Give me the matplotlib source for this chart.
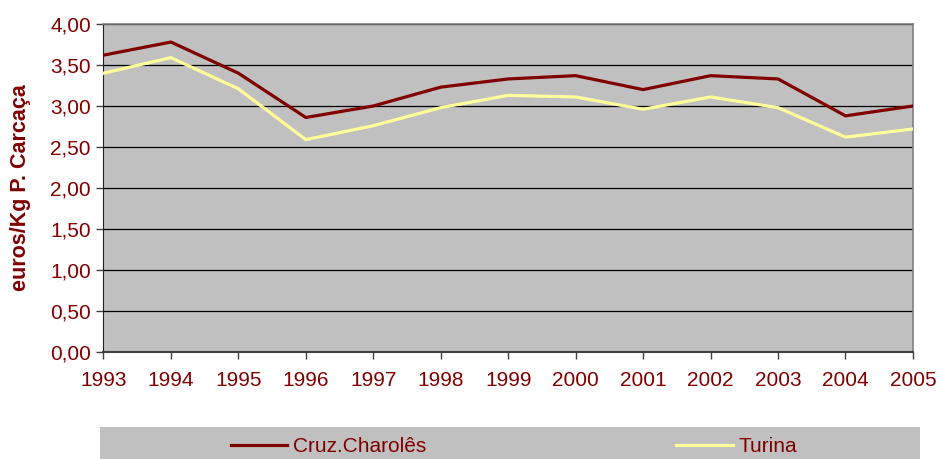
import matplotlib
matplotlib.use("Agg")
import matplotlib.pyplot as plt
from matplotlib.ticker import FuncFormatter

# dados (euros/Kg peso carcaça)
anos = [1993, 1994, 1995, 1996, 1997, 1998, 1999, 2000, 2001, 2002, 2003, 2004, 2005]
cruz_charoles = [3.62, 3.78, 3.40, 2.86, 3.00, 3.23, 3.33, 3.37, 3.20, 3.37, 3.33, 2.88, 3.00]
turina = [3.40, 3.59, 3.21, 2.59, 2.76, 2.98, 3.13, 3.11, 2.96, 3.11, 2.98, 2.62, 2.72]
y_ticks = [0, 0.5, 1.0, 1.5, 2.0, 2.5, 3.0, 3.5, 4.0]

VERMELHO = "#800000"
AMARELO = "#FFFF99"
CINZA = "#C0C0C0"

plt.rcParams["font.family"] = ["Liberation Sans", "DejaVu Sans"]

fig = plt.figure(figsize=(9.38, 4.59), dpi=100)
ax = fig.add_axes([0.1103, 0.2331, 0.8630, 0.7146])
ax.set_facecolor(CINZA)

ax.plot(anos, cruz_charoles, color=VERMELHO, lw=2.3, label="Cruz.Charolês", zorder=3)
ax.plot(anos, turina, color=AMARELO, lw=2.3, label="Turina", zorder=3)

ax.set_xlim(anos[0], anos[-1])
ax.set_ylim(0, 4)
ax.set_xticks(anos)
ax.set_yticks(y_ticks)
ax.yaxis.set_major_formatter(FuncFormatter(lambda v, p: f"{v:.2f}".replace(".", ",")))

ax.grid(axis="y", color="black", lw=0.9, zorder=1)
ax.set_axisbelow(True)

for s in ["top", "right"]:
    ax.spines[s].set_color("#808080")
    ax.spines[s].set_linewidth(1.2)
ax.spines["left"].set_color("#202020")
ax.spines["bottom"].set_color("#404040")
ax.spines["bottom"].set_linewidth(1.5)

ax.tick_params(axis="y", colors="#404040", labelcolor=VERMELHO, labelsize=15,
               length=5, width=1, pad=4)
ax.tick_params(axis="x", colors="#404040", labelcolor=VERMELHO, labelsize=15,
               length=5, width=1, pad=9)

ax.set_ylabel("euros/Kg P. Carcaça", color=VERMELHO, fontsize=15.5,
              fontweight="bold", labelpad=14)

# caixa da legenda em baixo
ax_leg = fig.add_axes([0.1066, 0.0, 0.8742, 0.0697])
ax_leg.set_facecolor(CINZA)
ax_leg.set_xticks([])
ax_leg.set_yticks([])
for s in ax_leg.spines.values():
    s.set_visible(False)

handles, labels = ax.get_legend_handles_labels()
leg = ax_leg.legend(handles, labels, loc="center", ncol=2, frameon=False,
                    fontsize=15, handlelength=2.7, handletextpad=0.3,
                    columnspacing=12, bbox_to_anchor=(0.505, 0.38))
for t in leg.get_texts():
    t.set_color(VERMELHO)

fig.savefig("out.png", dpi=100)
